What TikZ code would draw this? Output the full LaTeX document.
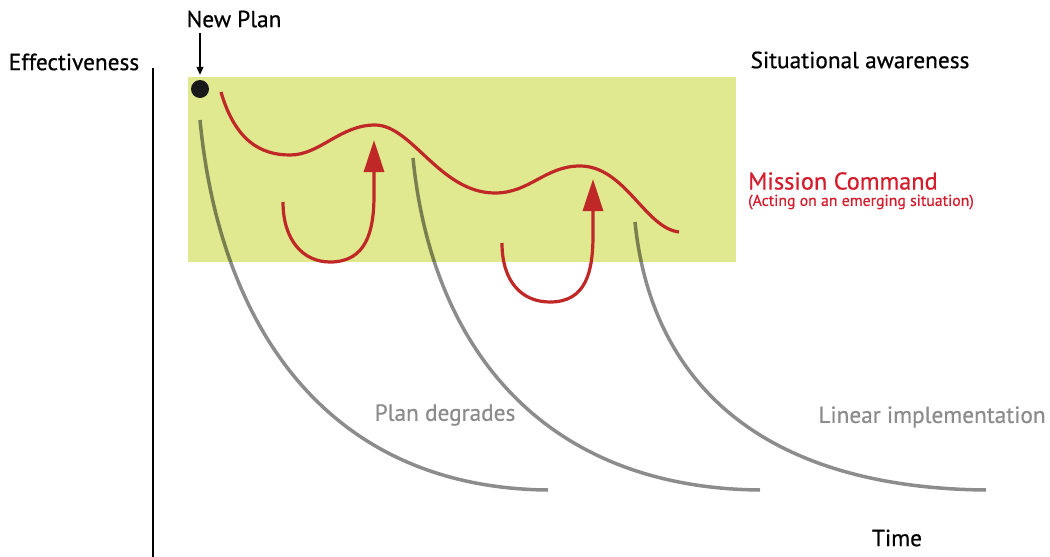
\documentclass[tikz,border=0pt]{standalone}
\usepackage{fontspec}
\setmainfont{PT Sans}
\newfontfamily\labfont[FakeBold=0.6]{PT Sans}
\usetikzlibrary{arrows.meta}
\definecolor{zone}{RGB}{224,232,144}
\definecolor{cmdred}{RGB}{192,40,40}
\definecolor{cmdtext}{RGB}{212,28,44}
\definecolor{planline}{RGB}{140,140,140}
\definecolor{labgray}{RGB}{140,140,140}
\tikzset{
  lab/.style={font=\labfont\fontsize{23.3}{25}\selectfont, text=black, inner sep=0pt},
  graylab/.style={lab, text=labgray},
  wave/.style={draw=cmdred, line width=3.2pt},
  loopback/.style={draw=cmdred, line width=3.2pt, -{Triangle[length=32pt,width=20pt]}},
  degrade/.style={draw=planline, line width=3.5pt},
}
\begin{document}
\begin{tikzpicture}[x=1pt,y=-1pt]
\useasboundingbox (0,0) rectangle (1050,557);
% awareness zone
\fill[zone] (188,77) rectangle (736,262);
% effectiveness axis
\coordinate (axtop) at (153,68);
\coordinate (axbot) at (153,557);
\draw[line width=2.5pt] (axtop) -- (axbot);
% labels
\node[lab] (eff) at (74,62) {Effectiveness};
\node[lab] (np) at (234,19) {New Plan};
\node[lab] (sa) at (860,60) {Situational awareness};
\node[lab] (time) at (897,538) {Time};
\node[lab, anchor=west, text=cmdtext, font=\labfont\fontsize{24.3}{26}\selectfont] (mc) at (748,181) {Mission Command};
\node[anchor=west, inner sep=0pt, text=cmdtext, font=\labfont\fontsize{15.8}{17}\selectfont] (mcsub) at (748,202) {(Acting on an emerging situation)};
\node[graylab] (pd) at (445,415) {Plan degrades};
\node[graylab] (li) at (932,417) {Linear implementation};
% start point
\node[circle, fill=black!90, minimum size=18pt, inner sep=0pt] (dot) at (200,89) {};
\coordinate (npfoot) at (200,33);
\draw[line width=1.2pt, -{Triangle[length=8pt,width=7pt]}, shorten >=5pt] (npfoot) -- (dot.north);
% plan degradation curves
\begin{scope}[blend mode=multiply]
\coordinate (d1s) at (200,120); \coordinate (d1e) at (548,490);
\coordinate (d2s) at (413,158); \coordinate (d2e) at (760,490);
\coordinate (d3s) at (635,222); \coordinate (d3e) at (986,490);
\draw[degrade] (d1s) .. controls (220,330) and (330,488) .. (d1e);
\draw[degrade] (d2s) .. controls (432,350) and (545,488) .. (d2e);
\draw[degrade] (d3s) .. controls (652,390) and (770,488) .. (d3e);
\end{scope}
% mission command path
\coordinate (w0) at (221,92);
\coordinate (w1) at (290,155);
\coordinate (w2) at (375,125);
\coordinate (w3) at (495,193);
\coordinate (w4) at (580,166);
\coordinate (w5) at (679,232);
\draw[wave] (w0) .. controls (235,140) and (260,155) .. (w1)
  .. controls (320,155) and (340,125) .. (w2)
  .. controls (412,125) and (440,193) .. (w3)
  .. controls (530,193) and (545,166) .. (w4)
  .. controls (625,166) and (645,228) .. (w5);
% corrective loops
\coordinate (l1s) at (283,202); \coordinate (l1b) at (330,262); \coordinate (l1t) at (374,140);
\coordinate (l2s) at (502,243); \coordinate (l2b) at (550,302); \coordinate (l2t) at (593,179);
\draw[loopback] (l1s) .. controls (283,240) and (303,262) .. (l1b)
  .. controls (366,262) and (374,232) .. (374,195) -- (l1t);
\draw[loopback] (l2s) .. controls (502,282) and (522,302) .. (l2b)
  .. controls (586,302) and (593,272) .. (593,235) -- (l2t);
\end{tikzpicture}
\end{document}
